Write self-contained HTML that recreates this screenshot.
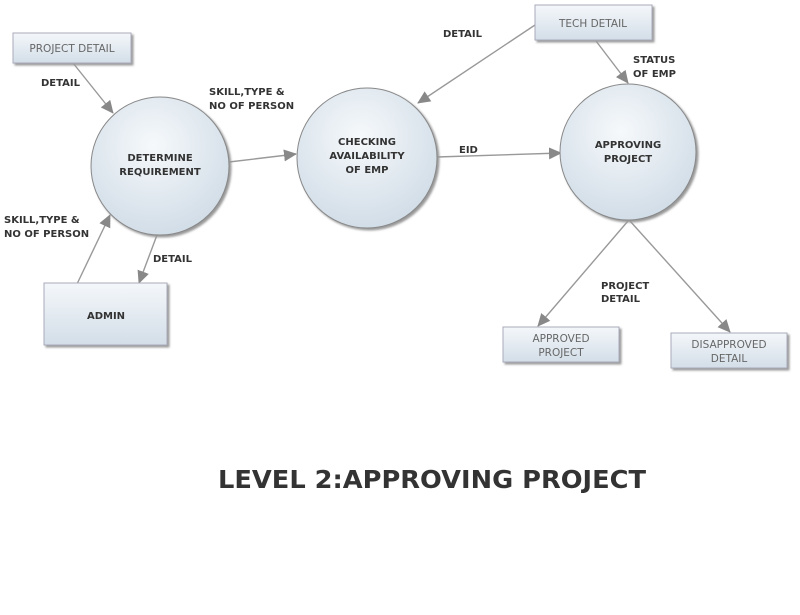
<!DOCTYPE html>
<html><head><style>
body{margin:0;background:#fff;}
svg text{font-family:"DejaVu Sans","Liberation Sans",sans-serif;}
</style></head><body>
<svg width="800" height="610" viewBox="0 0 800 610" xmlns="http://www.w3.org/2000/svg">
<defs>
<linearGradient id="bx" x1="0" y1="0" x2="0" y2="1"><stop offset="0" stop-color="#f4f7fa"/><stop offset="1" stop-color="#d3dee8"/></linearGradient>
<radialGradient id="cg" cx="0.45" cy="0.35" r="0.7"><stop offset="0" stop-color="#f6f9fb"/><stop offset="1" stop-color="#cfdbe6"/></radialGradient>
<marker id="a" markerWidth="13" markerHeight="12" refX="12" refY="6" orient="auto" markerUnits="userSpaceOnUse"><path d="M0,0 L13,6 L0,12 z" fill="#888"/></marker>
<filter id="sh"><feDropShadow dx="2" dy="2" stdDeviation="1" flood-color="#999"/></filter>
</defs>
<g stroke="#999" stroke-width="1.4" fill="none">
<line x1="73" y1="63" x2="113" y2="113" marker-end="url(#a)"/>
<line x1="229" y1="162" x2="296" y2="154" marker-end="url(#a)"/>
<line x1="77" y1="284" x2="110" y2="215" marker-end="url(#a)"/>
<line x1="157" y1="235" x2="139" y2="283" marker-end="url(#a)"/>
<line x1="535" y1="25" x2="418" y2="103" marker-end="url(#a)"/>
<line x1="596" y1="41" x2="628" y2="83" marker-end="url(#a)"/>
<line x1="437" y1="157" x2="561" y2="153" marker-end="url(#a)"/>
<line x1="628" y1="221" x2="538" y2="326" marker-end="url(#a)"/>
<line x1="630" y1="221" x2="730" y2="332" marker-end="url(#a)"/>
</g>
<g filter="url(#sh)" stroke="#aab" stroke-width="1">
<rect x="13" y="33" width="118" height="30" fill="url(#bx)"/>
<rect x="535" y="5" width="117" height="35" fill="url(#bx)"/>
<rect x="44" y="283" width="123" height="62" fill="url(#bx)"/>
<rect x="503" y="327" width="116" height="35" fill="url(#bx)"/>
<rect x="671" y="333" width="116" height="35" fill="url(#bx)"/>
<circle cx="160" cy="166" r="69" fill="url(#cg)" stroke="#888"/>
<circle cx="367" cy="158" r="70" fill="url(#cg)" stroke="#888"/>
<circle cx="628" cy="152" r="68" fill="url(#cg)" stroke="#888"/>
</g>
<g font-size="10.5" fill="#666" text-anchor="middle">
<text x="72" y="52">PROJECT DETAIL</text>
<text x="593" y="27">TECH DETAIL</text>
<text x="561" y="342">APPROVED</text><text x="561" y="356">PROJECT</text>
<text x="729" y="348">DISAPPROVED</text><text x="729" y="362">DETAIL</text>
</g>
<g font-size="10" font-weight="bold" fill="#333">
<text x="160" y="161" text-anchor="middle">DETERMINE</text>
<text x="160" y="175" text-anchor="middle">REQUIREMENT</text>
<text x="367" y="145" text-anchor="middle">CHECKING</text>
<text x="367" y="159" text-anchor="middle">AVAILABILITY</text>
<text x="367" y="173" text-anchor="middle">OF EMP</text>
<text x="628" y="148" text-anchor="middle">APPROVING</text>
<text x="628" y="162" text-anchor="middle">PROJECT</text>
<text x="106" y="319" text-anchor="middle">ADMIN</text>
<text x="41" y="86">DETAIL</text>
<text x="209" y="95">SKILL,TYPE &amp;</text>
<text x="209" y="109">NO OF PERSON</text>
<text x="4" y="223">SKILL,TYPE &amp;</text>
<text x="4" y="237">NO OF PERSON</text>
<text x="153" y="262">DETAIL</text>
<text x="443" y="37">DETAIL</text>
<text x="633" y="63">STATUS</text>
<text x="633" y="77">OF EMP</text>
<text x="459" y="153">EID</text>
<text x="601" y="289">PROJECT</text>
<text x="601" y="302">DETAIL</text>
</g>
<text x="432" y="488" text-anchor="middle" font-size="25" font-weight="bold" fill="#333" textLength="428" lengthAdjust="spacingAndGlyphs">LEVEL 2:APPROVING PROJECT</text>
</svg>
</body></html>
